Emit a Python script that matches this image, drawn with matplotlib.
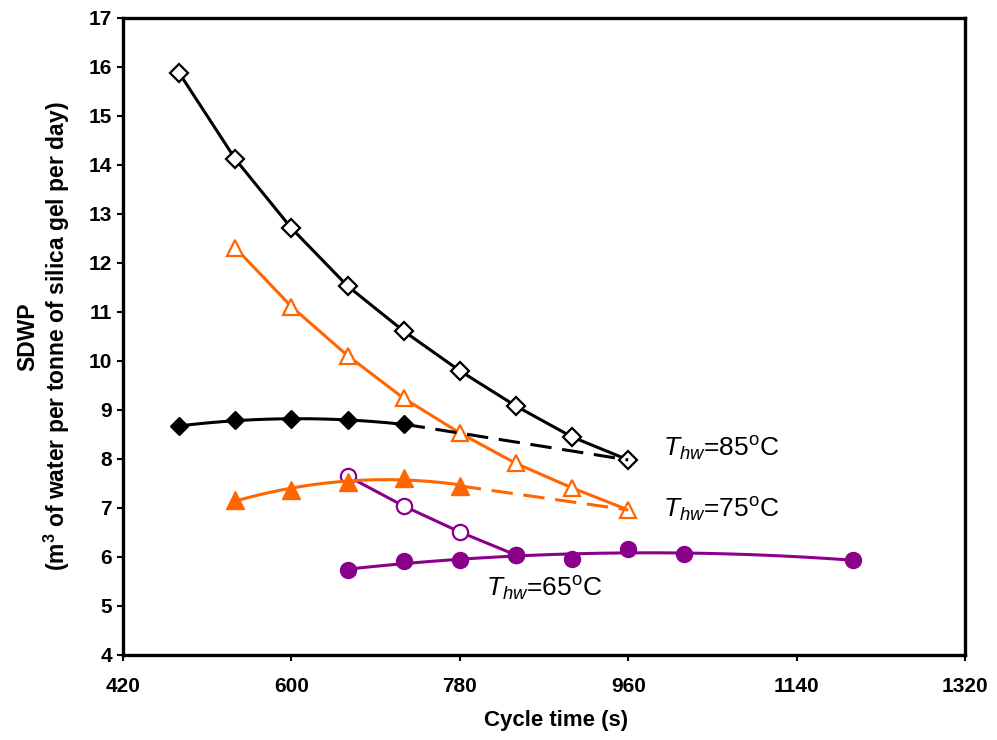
import numpy as np
import matplotlib
matplotlib.use("Agg")
import matplotlib.pyplot as plt

plt.rcParams['font.family'] = ['Liberation Sans', 'DejaVu Sans']
plt.rcParams['mathtext.fontset'] = 'custom'
plt.rcParams['mathtext.rm'] = 'Liberation Sans'
plt.rcParams['mathtext.it'] = 'Liberation Sans:italic'
plt.rcParams['mathtext.bf'] = 'Liberation Sans:bold'

# Cycle times (s)
t_85_open = [480, 540, 600, 660, 720, 780, 840, 900, 960]
sdwp_85_open = [15.88, 14.12, 12.71, 11.53, 10.61, 9.80, 9.08, 8.45, 7.98]
t_85_fill = [480, 540, 600, 660, 720]
sdwp_85_fill = [8.67, 8.79, 8.82, 8.79, 8.71]

t_75_open = [540, 600, 660, 720, 780, 840, 900, 960]
sdwp_75_open = [12.31, 11.11, 10.11, 9.24, 8.53, 7.91, 7.41, 6.96]
t_75_fill = [540, 600, 660, 720, 780]
sdwp_75_fill = [7.16, 7.37, 7.54, 7.62, 7.45]

t_65_open = [660, 720, 780, 840]
sdwp_65_open = [7.65, 7.04, 6.51, 6.04]
t_65_fill = [660, 720, 780, 840, 900, 960, 1020, 1200]
sdwp_65_fill = [5.73, 5.91, 5.94, 6.04, 5.96, 6.17, 6.07, 5.93]

ORANGE = '#FF6600'
PURPLE = '#8B008B'

fig = plt.figure(figsize=(9.97, 7.4), dpi=100)
ax = fig.add_axes([0.1234, 0.1149, 0.8445, 0.8608])


def trend(ax, t, y, color, z):
    # 2nd order polynomial trendline over the measured range
    c = np.polyfit(t, y, 2)
    xs = np.linspace(min(t), max(t), 200)
    ax.plot(xs, np.polyval(c, xs), color=color, lw=2.2, zorder=z)


# 65 C series (drawn first so other markers sit on top)
ax.plot(t_65_open, sdwp_65_open, color=PURPLE, lw=2.2, marker='o', ms=11,
        mfc='white', mec=PURPLE, mew=1.6, zorder=2)
trend(ax, t_65_fill, sdwp_65_fill, PURPLE, 3)
ax.plot(t_65_fill, sdwp_65_fill, ls='none', marker='o', ms=11.5,
        color=PURPLE, zorder=4)

# 75 C series
ax.plot(t_75_open, sdwp_75_open, color=ORANGE, lw=2.2, marker='^', ms=12,
        mfc='white', mec=ORANGE, mew=1.6, zorder=5)
trend(ax, t_75_fill, sdwp_75_fill, ORANGE, 5)
ax.plot(t_75_fill, sdwp_75_fill, ls='none', marker='^', ms=12.5,
        color=ORANGE, zorder=6)
ax.plot([t_75_fill[-1], t_75_open[-1]], [sdwp_75_fill[-1], sdwp_75_open[-1]],
        color=ORANGE, lw=2.2, ls=(0, (7, 3.5)), zorder=5)

# 85 C series
ax.plot(t_85_open, sdwp_85_open, color='black', lw=2.2, marker='D', ms=9,
        mfc='white', mec='black', mew=1.6, zorder=7)
trend(ax, t_85_fill, sdwp_85_fill, 'black', 7)
ax.plot(t_85_fill, sdwp_85_fill, ls='none', marker='D', ms=9.5,
        color='black', zorder=8)
ax.plot([t_85_fill[-1], t_85_open[-1]], [sdwp_85_fill[-1], sdwp_85_open[-1]],
        color='black', lw=2.2, ls=(0, (7, 3.5)), zorder=7)

# temperature labels
lab_kw = dict(fontsize=19, va='center', ha='left')
ax.text(997, 8.2, r'$\mathit{T}_{\mathit{hw}}$=85$^{\rm o}$C', **lab_kw)
ax.text(997, 6.96, r'$\mathit{T}_{\mathit{hw}}$=75$^{\rm o}$C', **lab_kw)
ax.text(808, 5.35, r'$\mathit{T}_{\mathit{hw}}$=65$^{\rm o}$C', **lab_kw)

ax.set_xlim(420, 1320)
ax.set_ylim(4, 17)
ax.set_xticks(np.arange(420, 1321, 180))
ax.set_yticks(np.arange(4, 18, 1))

for s in ax.spines.values():
    s.set_linewidth(2.4)
ax.tick_params(direction='out', length=4, width=1.5, labelsize=15, pad=4)
for lbl in ax.get_xticklabels() + ax.get_yticklabels():
    lbl.set_fontweight('bold')
ax.tick_params(axis='x', pad=12)

ax.set_xlabel('Cycle time (s)', fontsize=16, fontweight='bold', labelpad=10)
ax.xaxis.label.set_x(0.514)
ax.set_ylabel('SDWP\n(m$^{\\bf 3}$ of water per tonne of silica gel per day)',
              fontsize=16.5, fontweight='bold', labelpad=12, linespacing=1.1)

fig.savefig('out.png', dpi=100)
